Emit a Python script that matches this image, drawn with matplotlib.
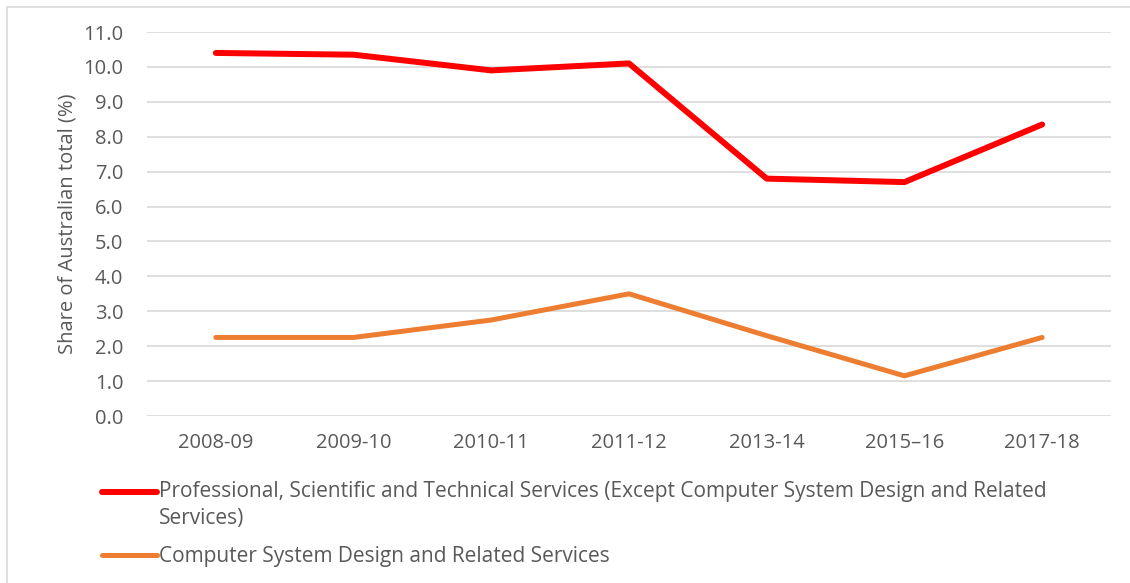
import matplotlib
matplotlib.use("Agg")
import numpy as np
import matplotlib.pyplot as plt
from matplotlib.patches import Rectangle
from matplotlib.lines import Line2D
from matplotlib.legend_handler import HandlerLine2D

years = ["2008-09", "2009-10", "2010-11", "2011-12", "2013-14", "2015\u201316", "2017-18"]
professional = [10.4, 10.35, 9.9, 10.1, 6.8, 6.7, 8.35]
computer = [2.25, 2.25, 2.75, 3.5, 2.3, 1.15, 2.25]
series_labels = [
    "Professional, Scientific and Technical Services (Except Computer System Design and Related\nServices)",
    "Computer System Design and Related Services",
]
yticks = [i * 1.0 for i in range(12)]

plt.rcParams["font.family"] = ["Open Sans", "DejaVu Sans"]
TXT = "#595959"
GRID = "#d9d9d9"


class FirstLineHandler(HandlerLine2D):
    """Line handle lifted to sit beside the first line of a wrapped label."""

    def __init__(self, dy=0.0, **kw):
        super().__init__(**kw)
        self.dy = dy

    def create_artists(self, legend, orig_handle, xdescent, ydescent,
                       width, height, fontsize, trans):
        artists = super().create_artists(legend, orig_handle, xdescent, ydescent,
                                         width, height, fontsize, trans)
        for a in artists:
            if isinstance(a, Line2D):
                a.set_ydata(np.asarray(a.get_ydata(), dtype=float) + self.dy)
        return artists


W, H = 1130, 583
fig = plt.figure(figsize=(W / 100, H / 100), dpi=100)

# outer chart frame
fig.add_artist(Rectangle((7 / W, -0.05), 1.2, (H - 7) / H + 0.05, transform=fig.transFigure,
                         fill=False, edgecolor=GRID, lw=1.2))

ax = fig.add_axes([147 / W, (H - 416) / H, (1111 - 147) / W, (416 - 32) / H])
x = range(len(years))
l1, = ax.plot(x, professional, color="#ff0000", lw=4.3, solid_capstyle="round",
              solid_joinstyle="round", label=series_labels[0], zorder=3)
l2, = ax.plot(x, computer, color="#ed7d31", lw=3.6, solid_capstyle="round",
              solid_joinstyle="round", label=series_labels[1], zorder=3)

ax.set_xlim(-0.5, len(years) - 0.5)
ax.set_ylim(0, 11)
ax.set_yticks(yticks)
ax.set_yticklabels([f"{v:.1f}" for v in yticks])
ax.set_xticks(list(x))
ax.set_xticklabels(years)
ax.grid(axis="y", color=GRID, lw=1.2)
ax.set_axisbelow(True)
for s in ax.spines.values():
    s.set_visible(False)
ax.tick_params(axis="both", length=0, colors=TXT, labelsize=14.5)
ax.tick_params(axis="y", pad=17)
ax.tick_params(axis="x", pad=12)
ax.set_ylabel("Share of Australian total (%)", color=TXT, fontsize=14.5, labelpad=4)

leg = fig.legend(handles=[l1, l2], loc="upper left", bbox_to_anchor=(102 / W, 1 - 481 / H),
                 frameon=False, fontsize=15, handlelength=2.65, handletextpad=0.1,
                 labelspacing=0.8, borderaxespad=0, borderpad=0,
                 handler_map={l1: FirstLineHandler(dy=10.0)})
for t in leg.get_texts():
    t.set_color(TXT)
    t.set_linespacing(1.4)

fig.savefig("out.png", dpi=100)
